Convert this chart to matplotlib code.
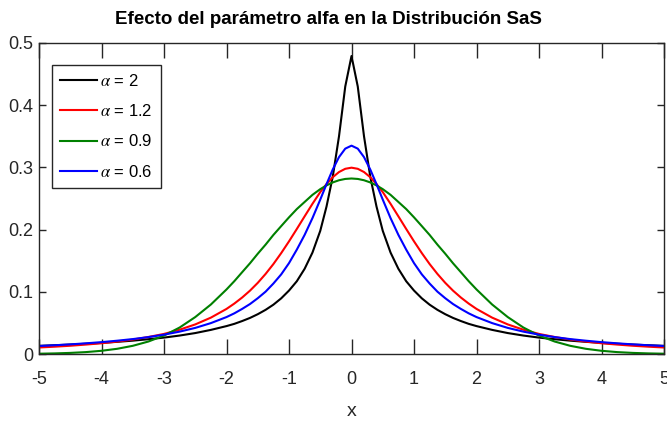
import matplotlib
matplotlib.use("Agg")
import matplotlib.pyplot as plt

# values (curves are symmetric about x = 0)
x = [-5, -4.75, -4.5, -4.25, -4, -3.75, -3.5, -3.25, -3, -2.75, -2.5, -2.25, -2,
     -1.875, -1.75, -1.625, -1.5, -1.375, -1.25, -1.125, -1, -0.875, -0.75, -0.625,
     -0.5, -0.4, -0.3, -0.2, -0.1,
     0,
     0.1, 0.2, 0.3, 0.4, 0.5, 0.625, 0.75, 0.875, 1, 1.125, 1.25, 1.375, 1.5,
     1.625, 1.75, 1.875, 2, 2.25, 2.5, 2.75, 3, 3.25, 3.5, 3.75, 4, 4.25, 4.5,
     4.75, 5]

y_black = [0.0131, 0.0141, 0.0152, 0.0165, 0.0179, 0.0196, 0.0215, 0.0238, 0.0264,
           0.0297, 0.0337, 0.0388, 0.0449, 0.0485, 0.053, 0.058, 0.064, 0.071,
           0.0793, 0.0895, 0.102, 0.117, 0.137, 0.163, 0.198, 0.237, 0.285, 0.350,
           0.430,
           0.479,
           0.430, 0.350, 0.285, 0.237, 0.198, 0.163, 0.137, 0.117, 0.102, 0.0895,
           0.0793, 0.071, 0.064, 0.058, 0.053, 0.0485, 0.0449, 0.0388, 0.0337,
           0.0297, 0.0264, 0.0238, 0.0215, 0.0196, 0.0179, 0.0165, 0.0152, 0.0141,
           0.0131]

y_red = [0.0105, 0.0118, 0.0133, 0.0152, 0.0173, 0.0200, 0.0232, 0.0274, 0.0323,
         0.0391, 0.0476, 0.0585, 0.0725, 0.0811, 0.0908, 0.1018, 0.1144, 0.1287,
         0.1446, 0.1622, 0.1811, 0.2010, 0.2213, 0.2414, 0.2603, 0.2732, 0.2842,
         0.2925, 0.2977,
         0.2995,
         0.2977, 0.2925, 0.2842, 0.2732, 0.2603, 0.2414, 0.2213, 0.2010, 0.1811,
         0.1622, 0.1446, 0.1287, 0.1144, 0.1018, 0.0908, 0.0811, 0.0725, 0.0585,
         0.0476, 0.0391, 0.0323, 0.0274, 0.0232, 0.0200, 0.0173, 0.0152, 0.0133,
         0.0118, 0.0105]

y_green = [0.0005, 0.0010, 0.0018, 0.0031, 0.0052, 0.0084, 0.0132, 0.0201, 0.0297,
           0.0426, 0.0594, 0.0796, 0.1038, 0.1171, 0.1315, 0.1458, 0.1612, 0.1758,
           0.1914, 0.2056, 0.2197, 0.2330, 0.2444, 0.2558, 0.2650, 0.2710, 0.2758,
           0.2793, 0.2814,
           0.2821,
           0.2814, 0.2793, 0.2758, 0.2710, 0.2650, 0.2558, 0.2444, 0.2330, 0.2197,
           0.2056, 0.1914, 0.1758, 0.1612, 0.1458, 0.1315, 0.1171, 0.1038, 0.0796,
           0.0594, 0.0426, 0.0297, 0.0201, 0.0132, 0.0084, 0.0052, 0.0031, 0.0018,
           0.0010, 0.0005]

y_blue = [0.0129, 0.0141, 0.0155, 0.0172, 0.0191, 0.0214, 0.0240, 0.0272, 0.0311,
          0.0360, 0.0420, 0.0497, 0.0594, 0.0654, 0.0725, 0.0803, 0.0897, 0.1002,
          0.1133, 0.1280, 0.1461, 0.1678, 0.1915, 0.2184, 0.2482, 0.2730, 0.2966,
          0.3165, 0.3301,
          0.3349,
          0.3301, 0.3165, 0.2966, 0.2730, 0.2482, 0.2184, 0.1915, 0.1678, 0.1461,
          0.1280, 0.1133, 0.1002, 0.0897, 0.0803, 0.0725, 0.0654, 0.0594, 0.0497,
          0.0420, 0.0360, 0.0311, 0.0272, 0.0240, 0.0214, 0.0191, 0.0172, 0.0155,
          0.0141, 0.0129]

labels = [r"$\alpha$ = 2", r"$\alpha$ = 1.2", r"$\alpha$ = 0.9", r"$\alpha$ = 0.6"]
colors = ["black", "red", "green", "blue"]

x_ticks = [-5, -4, -3, -2, -1, 0, 1, 2, 3, 4, 5]
y_ticks = [0, 0.1, 0.2, 0.3, 0.4, 0.5]
y_tick_labels = ["0", "0.1", "0.2", "0.3", "0.4", "0.5"]

plt.rcParams["font.family"] = ["Liberation Sans Narrow", "Liberation Sans", "DejaVu Sans"]
plt.rcParams["mathtext.fontset"] = "stix"
plt.rcParams["axes.unicode_minus"] = False

axis_grey = "#262626"

fig = plt.figure(figsize=(6.67, 4.25), dpi=100)
ax = fig.add_axes([0.0585, 0.167, 0.937, 0.732])

for ys, c, lab in zip([y_black, y_red, y_green, y_blue], colors, labels):
    ax.plot(x, ys, color=c, linewidth=1.5, label=lab)

ax.set_xlim(-5, 5)
ax.set_ylim(0, 0.5)
ax.set_xticks(x_ticks)
ax.set_xticklabels([str(t) for t in x_ticks])
ax.set_yticks(y_ticks)
ax.set_yticklabels(y_tick_labels)

# matlab style box with inward ticks on every side
ax.tick_params(axis="both", direction="in", top=True, right=True,
               colors=axis_grey, labelcolor=axis_grey, labelsize=13, width=1)
ax.tick_params(axis="x", length=11, pad=12)
ax.tick_params(axis="y", length=5, pad=4)
for sp in ax.spines.values():
    sp.set_color(axis_grey)
    sp.set_linewidth(1)

fig.text(0.493, 0.955, "Efecto del parámetro alfa en la Distribución SaS",
         fontsize=13.5, fontweight="bold", ha="center", va="center")
ax.set_xlabel("x", fontsize=14, color=axis_grey, labelpad=11)

leg = ax.legend(loc="upper left", bbox_to_anchor=(0.021, 0.93), fontsize=12,
                fancybox=False, framealpha=1, edgecolor=axis_grey,
                handlelength=2.2, handletextpad=0.2, labelspacing=0.85,
                borderpad=0.5, borderaxespad=0)
leg.get_frame().set_linewidth(1)

fig.savefig("out.png", dpi=100)
